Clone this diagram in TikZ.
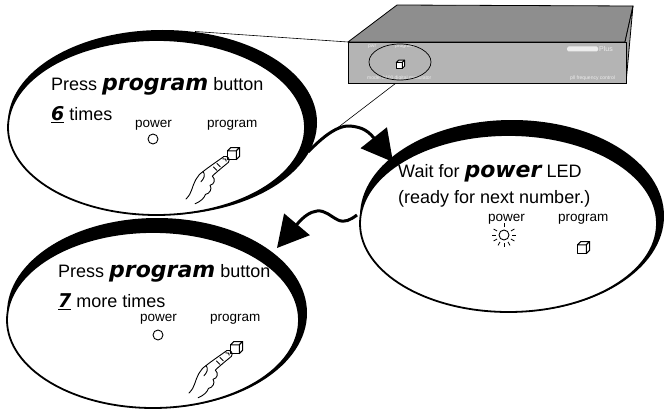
\documentclass[tikz,border=0pt]{standalone}
\usepackage{fontspec}
\setmainfont{Liberation Sans}
\newfontfamily\heavyfam{DejaVu Sans}
\usetikzlibrary{arrows.meta}
\newcommand\bigbold{\heavyfam\bfseries\itshape\fontsize{22}{24}\selectfont}
\newcommand\digitfont{\heavyfam\bfseries\itshape\fontsize{19}{20}\selectfont}
\newsavebox\ulbox
\newcommand\uldigit[1]{\sbox\ulbox{\digitfont #1}\rlap{\rule[-3.4pt]{\wd\ulbox}{1.6pt}}\usebox\ulbox}
\definecolor{devtop}{HTML}{8E8E8E}
\definecolor{devfront}{HTML}{B4B4B4}
\definecolor{devside}{HTML}{9C9C9C}
\definecolor{devlabel}{HTML}{ECECEC}
\tikzset{
  txt/.style={anchor=base west, inner sep=0pt, font=\fontsize{18}{20}\selectfont},
  lbl/.style={anchor=base west, inner sep=0pt, font=\fontsize{13.5}{15}\selectfont},
  devtxt/.style={anchor=base west, inner sep=0pt, text=devlabel, font=\fontsize{5}{6}\selectfont},
  outline/.style={draw=black, line width=1.8pt},
  bigarrow/.style={line width=3pt, -{Triangle[length=31pt,width=33pt]}},
  thinline/.style={line width=0.6pt},
  handline/.style={line width=0.9pt, line cap=round, line join=round},
  pics/cubebtn/.style={code={
    \draw[line width=1pt, line join=round, fill=white] (-5,-2) rectangle (3,6);
    \draw[line width=1pt, line join=round, fill=white] (-5,-2) -- (-2,-5) -- (6,-5) -- (3,-2) -- cycle;
    \draw[line width=1pt, line join=round, fill=white] (3,-2) -- (6,-5) -- (6,3) -- (3,6) -- cycle;
  }},
  pics/handicon/.style={code={
    \draw[handline] (-1,-3) .. controls (-8,2) and (-14,6) .. (-19,10)
        .. controls (-25,14) and (-27,20) .. (-29,26)
        .. controls (-30,29) and (-31,31) .. (-34,34);
    \draw[handline] (-1,-3) .. controls (2,-4) and (5,-1) .. (3,2)
        .. controls (-3,7) and (-8,11) .. (-11,14)
        .. controls (-8,17) and (-9,21) .. (-13,22)
        .. controls (-11,25) and (-13,29) .. (-17,30)
        .. controls (-18,33) and (-21,36) .. (-26,38);
    \draw[handline] (-2,-1) .. controls (0,-2) and (2,0) .. (1,1);
    \draw[handline] (-7,3) -- (-4,6);
    \draw[handline] (-10,6) -- (-7,9);
    \draw[handline] (-19,10) .. controls (-17,13) and (-18,16) .. (-21,19);
  }},
}
\begin{document}
\begin{tikzpicture}[x=1pt,y=-1pt]
\useasboundingbox (0,0) rectangle (664,412);
\fill[white] (0,0) rectangle (664,412);

% connector end points
\coordinate (e1top) at (195,31.5);
\coordinate (devcorner) at (348,42);
\coordinate (e1right) at (306,152);
\coordinate (zoomlow) at (400,80);
\coordinate (a1s) at (308,152);
\coordinate (a1e) at (393,162);
\coordinate (a2s) at (357,215);
\coordinate (a2e) at (277,248);

% zoom lines
\draw[thinline] (e1top) -- (devcorner);
\draw[thinline] (e1right) -- (zoomlow);

% device
\filldraw[fill=devtop, draw=black, line width=0.8pt, line join=round]
  (348,42) -- (397,5) -- (633,6) -- (625,42) -- cycle;
\filldraw[fill=devside, draw=black, line width=0.8pt, line join=round]
  (625,42) -- (633,6) -- (626,83) -- cycle;
\filldraw[fill=devfront, draw=black, line width=0.8pt]
  (348,42) rectangle (626,83);
\node[devtxt] (dpwr) at (368,48) {pwr};
\node[devtxt] (dprog) at (395,48) {program};
\node[devtxt] (dmodel) at (367,80) {model 2400 digital modulator};
\fill[devlabel, rounded corners=1.5pt] (567,46.5) rectangle (598,51.5);
\node[devtxt, font=\fontsize{7}{8}\selectfont] (dplus) at (599,51.5) {Plus};
\node[devtxt] (dpll) at (570,80) {pll frequency control};
\draw[line width=0.7pt] (400,62) ellipse [x radius=31pt, y radius=18pt];
\pic[scale=0.75] at (400,64) {cubebtn};

% ellipse 1
\fill[black] (162.5,122.5) ellipse [x radius=154.5pt, y radius=92.5pt];
\filldraw[fill=white, outline] (156.5,127.5) ellipse [x radius=148.5pt, y radius=87.5pt];
% ellipse 2
\fill[black] (512,216) ellipse [x radius=152pt, y radius=96pt];
\filldraw[fill=white, outline] (508.5,223.5) ellipse [x radius=148.5pt, y radius=88.5pt];
% ellipse 3
\fill[black] (157,313) ellipse [x radius=150pt, y radius=95pt];
\filldraw[fill=white, outline] (153,320) ellipse [x radius=146pt, y radius=88pt];

% arrows
\draw[bigarrow] (a1s) .. controls (318,142) and (335,125) .. (350,126)
   .. controls (358,127) and (366,128) .. (a1e);
\draw[bigarrow] (a2s) .. controls (350,220) and (345,223) .. (338,220)
   .. controls (330,216) and (325,210) .. (317,211)
   .. controls (310,212) and (304,216) .. (a2e);

% ellipse 1 contents
\node[txt] (e1a) at (51,91) {Press {\bigbold program} button};
\node[txt] (e1b) at (51,120) {\uldigit{6} times};
\node[lbl] (e1pw) at (135,127) {power};
\node[lbl] (e1pg) at (207,127) {program};
\draw[line width=0.9pt] (153,139) circle (5pt);
\pic[scale=1.1] at (233,153) {cubebtn};
\pic[scale=1.15] at (225,160) {handicon};

% ellipse 2 contents
\node[txt] (e2a) at (398,177) {Wait for {\bigbold power} LED};
\node[txt] (e2b) at (398,203) {(ready for next number.)};
\node[lbl] (e2pw) at (488,221) {power};
\node[lbl] (e2pg) at (558,221) {program};
\draw[line width=0.9pt] (504,235) circle (5pt);
\foreach \a in {0,30,90,150,180,210,240,270,300,330}
  \draw[line width=0.8pt] (504,235) ++(\a:8pt) -- ++(\a:4pt);
\pic[scale=1.1] at (583,247) {cubebtn};

% ellipse 3 contents
\node[txt] (e3a) at (58,277) {Press {\bigbold program} button};
\node[txt] (e3b) at (58,307) {\uldigit{7} more times};
\node[lbl] (e3pw) at (140,321) {power};
\node[lbl] (e3pg) at (210,321) {program};
\draw[line width=0.9pt] (158,335) circle (5pt);
\pic[scale=1.1] at (236,347) {cubebtn};
\pic[scale=1.15] at (228,354) {handicon};
\end{tikzpicture}
\end{document}
